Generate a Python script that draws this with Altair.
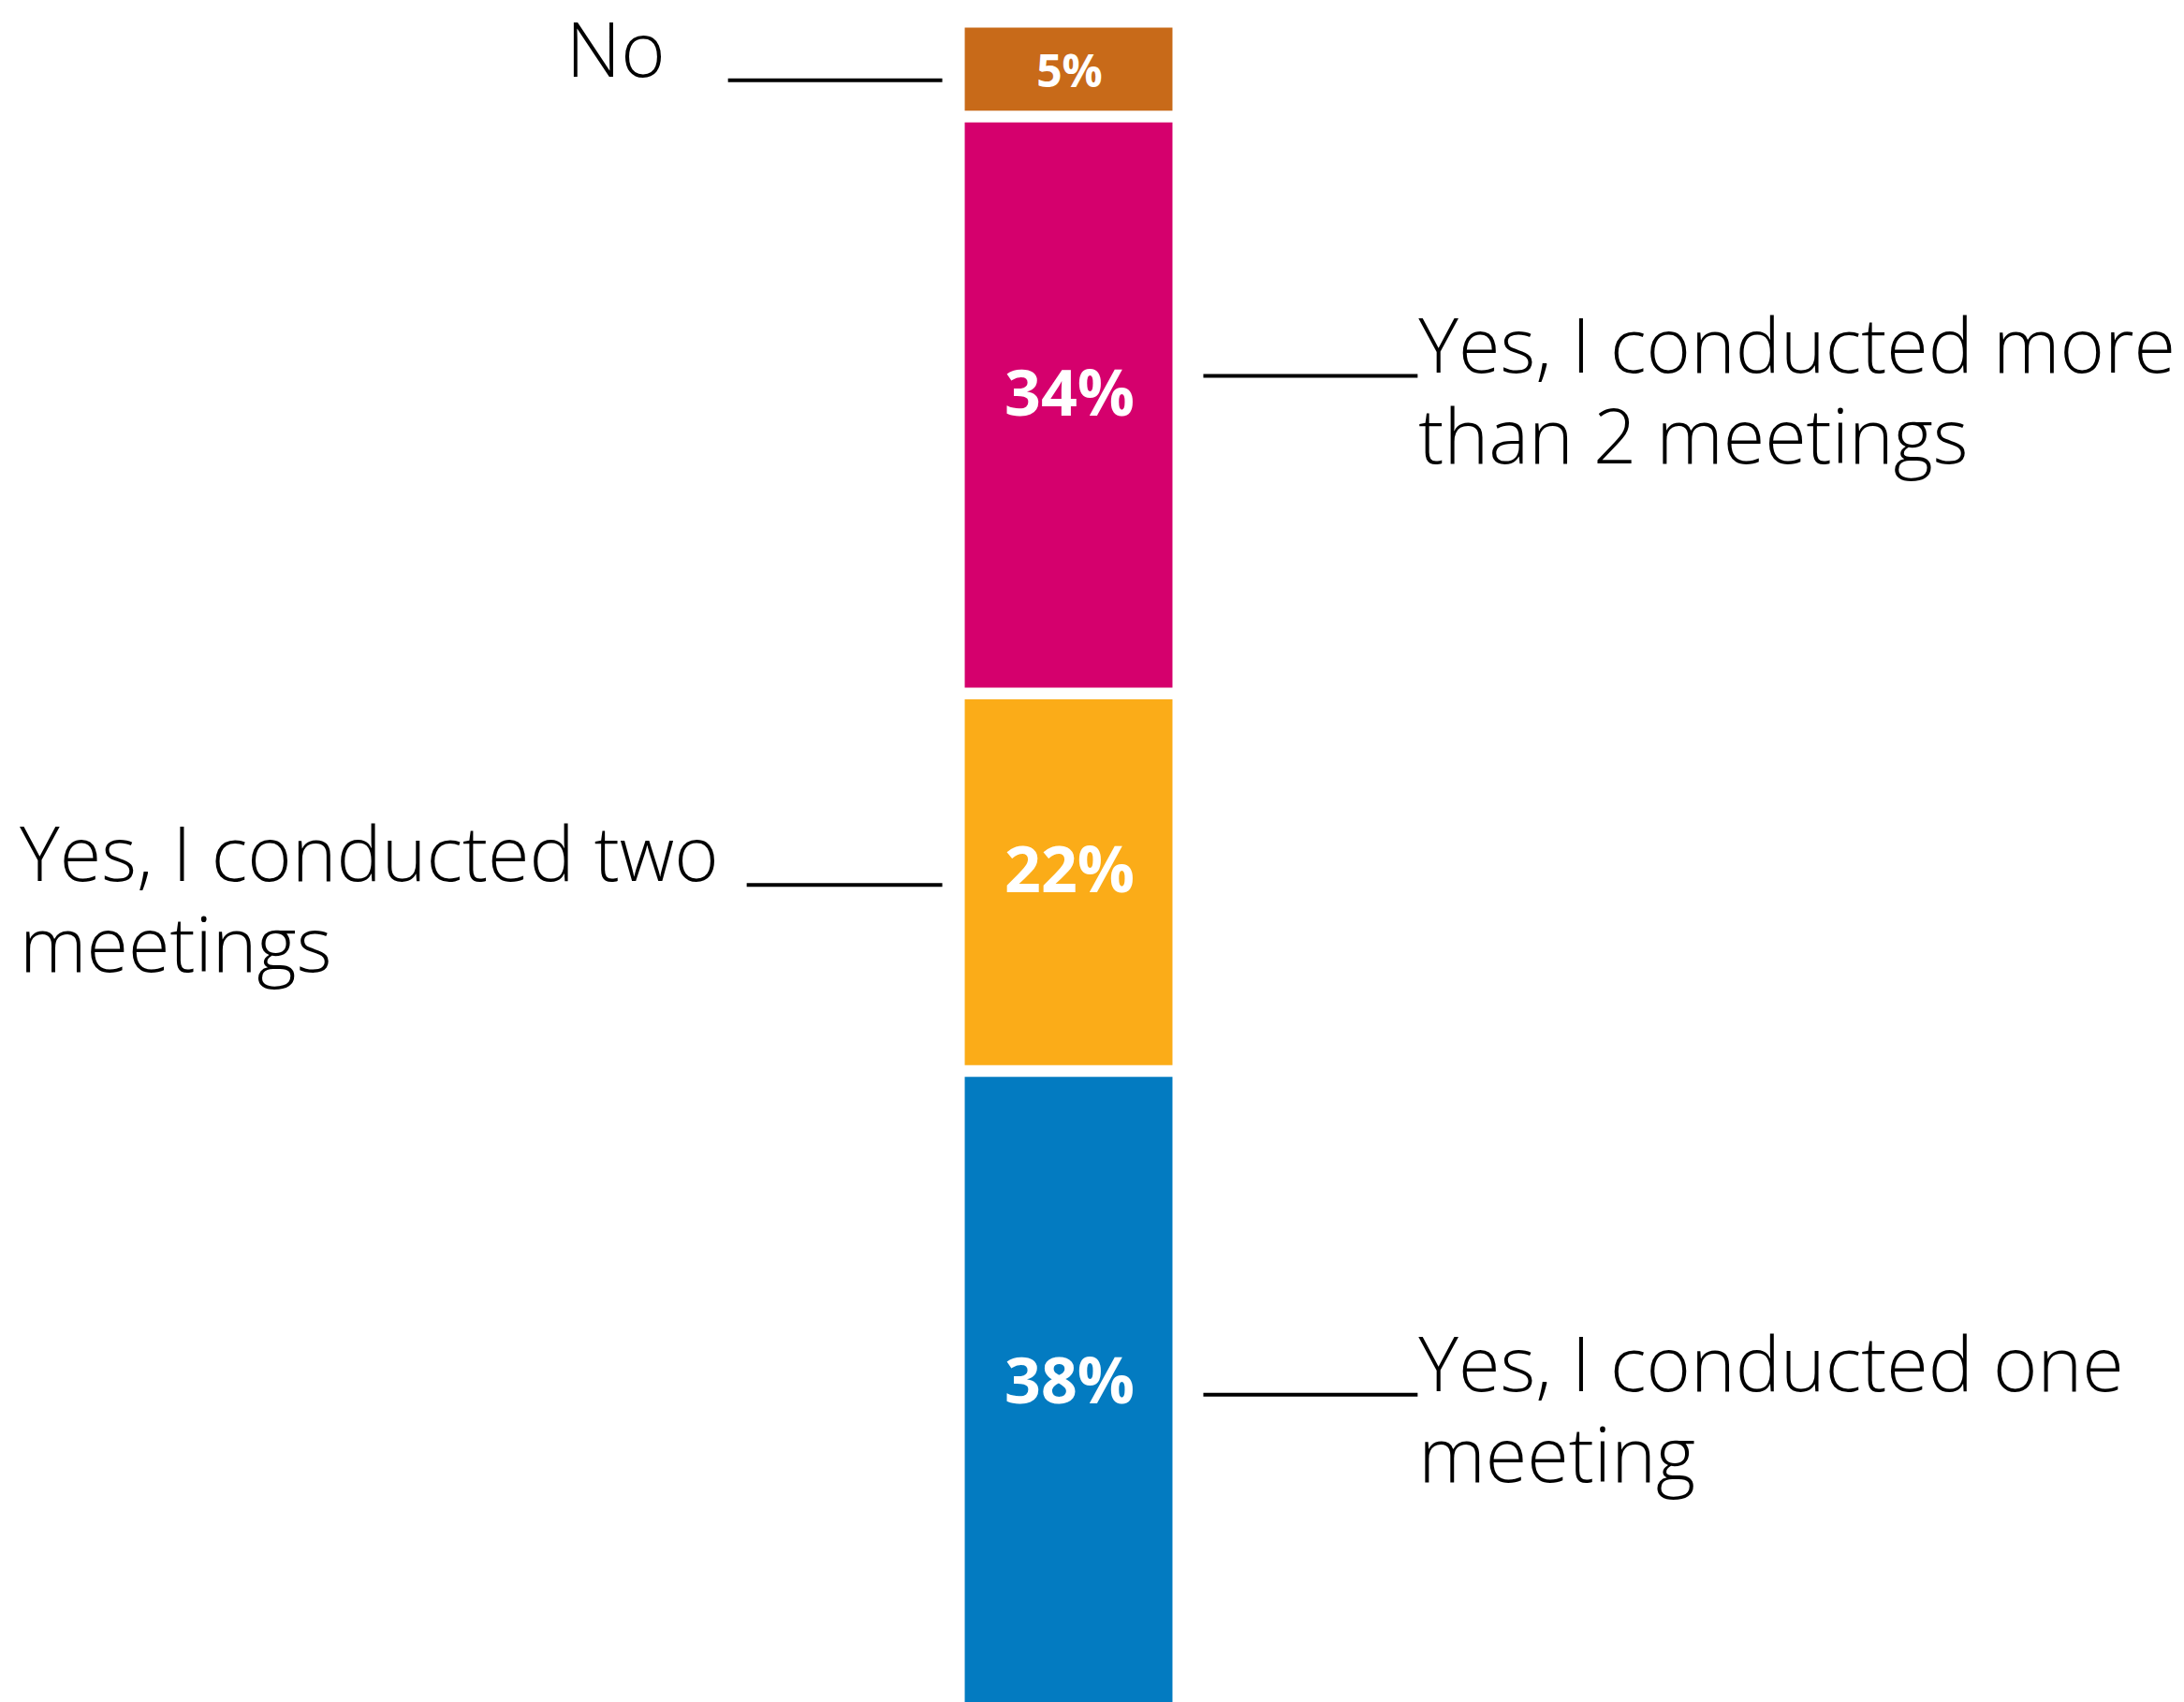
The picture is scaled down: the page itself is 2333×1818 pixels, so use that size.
import altair as alt
import pandas as pd

# ---- data ----
categories = [
    "No",
    "Yes, I conducted more than 2 meetings",
    "Yes, I conducted two meetings",
    "Yes, I conducted one meeting",
]
values = [5, 34, 22, 38]
pct_labels = ["5%", "34%", "22%", "38%"]
label_texts = [
    "No",
    "Yes, I conducted more\nthan 2 meetings",
    "Yes, I conducted two\nmeetings",
    "Yes, I conducted one\nmeeting",
]
colors = ["#C86A19", "#D5006D", "#FBAC18", "#037BC1"]

# ---- build table (stacked from the top, with a small gap between segments) ----
GAP = 0.7  # gap between segments, in percentage units
rows = []
start = 0.0
for c, v, p, t in zip(categories, values, pct_labels, label_texts):
    rows.append(dict(cat=c, value=v, y0=start, y1=start + v, mid=start + v / 2,
                     pct=p, label=t))
    start += v + GAP
df = pd.DataFrame(rows)
total = start - GAP

PX_PER_UNIT = 17.77
TOP = 21
yscale = alt.Scale(domain=[0, total], range=[TOP, TOP + total * PX_PER_UNIT])
color = alt.Color("cat:N", scale=alt.Scale(domain=categories, range=colors), legend=None)

base = alt.Chart(df)

bars = base.mark_bar().encode(
    x=alt.value(1023), x2=alt.value(1245),
    y=alt.Y("y0:Q", scale=yscale, axis=None),
    y2="y1:Q",
    color=color,
)

pct_small = base.transform_filter("datum.value < 10").mark_text(
    font="Open Sans", fontWeight="bold", color="white", fontSize=48,
    align="center", baseline="middle", dy=5).encode(
    x=alt.value(1135),
    y=alt.Y("mid:Q", scale=yscale),
    text="pct:N",
)
pct_big = base.transform_filter("datum.value >= 10").mark_text(
    font="Open Sans", fontWeight="bold", color="white", fontSize=68,
    align="center", baseline="middle", dy=-9).encode(
    x=alt.value(1135),
    y=alt.Y("mid:Q", scale=yscale),
    text="pct:N",
)

# per-category placement of connector line and label (style only)
place = {
    "No": dict(x1=770, x2=999, dy=12, tx=703, align="right"),
    "Yes, I conducted more than 2 meetings": dict(x1=1278, x2=1507, dy=-31, tx=1508, align="left"),
    "Yes, I conducted two meetings": dict(x1=790, x2=999, dy=3, tx=13, align="left"),
    "Yes, I conducted one meeting": dict(x1=1278, x2=1507, dy=2, tx=1508, align="left"),
}

layers = [bars, pct_small, pct_big]
for c in categories:
    p = place[c]
    sub = base.transform_filter(alt.datum.cat == c)
    layers.append(
        sub.mark_rule(color="black", strokeWidth=4, yOffset=p["dy"]).encode(
            x=alt.value(p["x1"]), x2=alt.value(p["x2"]),
            y=alt.Y("mid:Q", scale=yscale),
        )
    )
    layers.append(
        sub.mark_text(font="Open Sans", fontWeight=300, fontSize=81, color="black",
                      align=p["align"], baseline="alphabetic", lineBreak="\n",
                      lineHeight=97, yOffset=p["dy"] - 4).encode(
            x=alt.value(p["tx"]),
            y=alt.Y("mid:Q", scale=yscale),
            text="label:N",
        )
    )

chart = alt.layer(*layers).properties(
    width=2317, height=1800, padding=0, background="white"
).configure_view(stroke=None)

chart.save("out.html", embed_options={"renderer": "svg", "actions": False})
